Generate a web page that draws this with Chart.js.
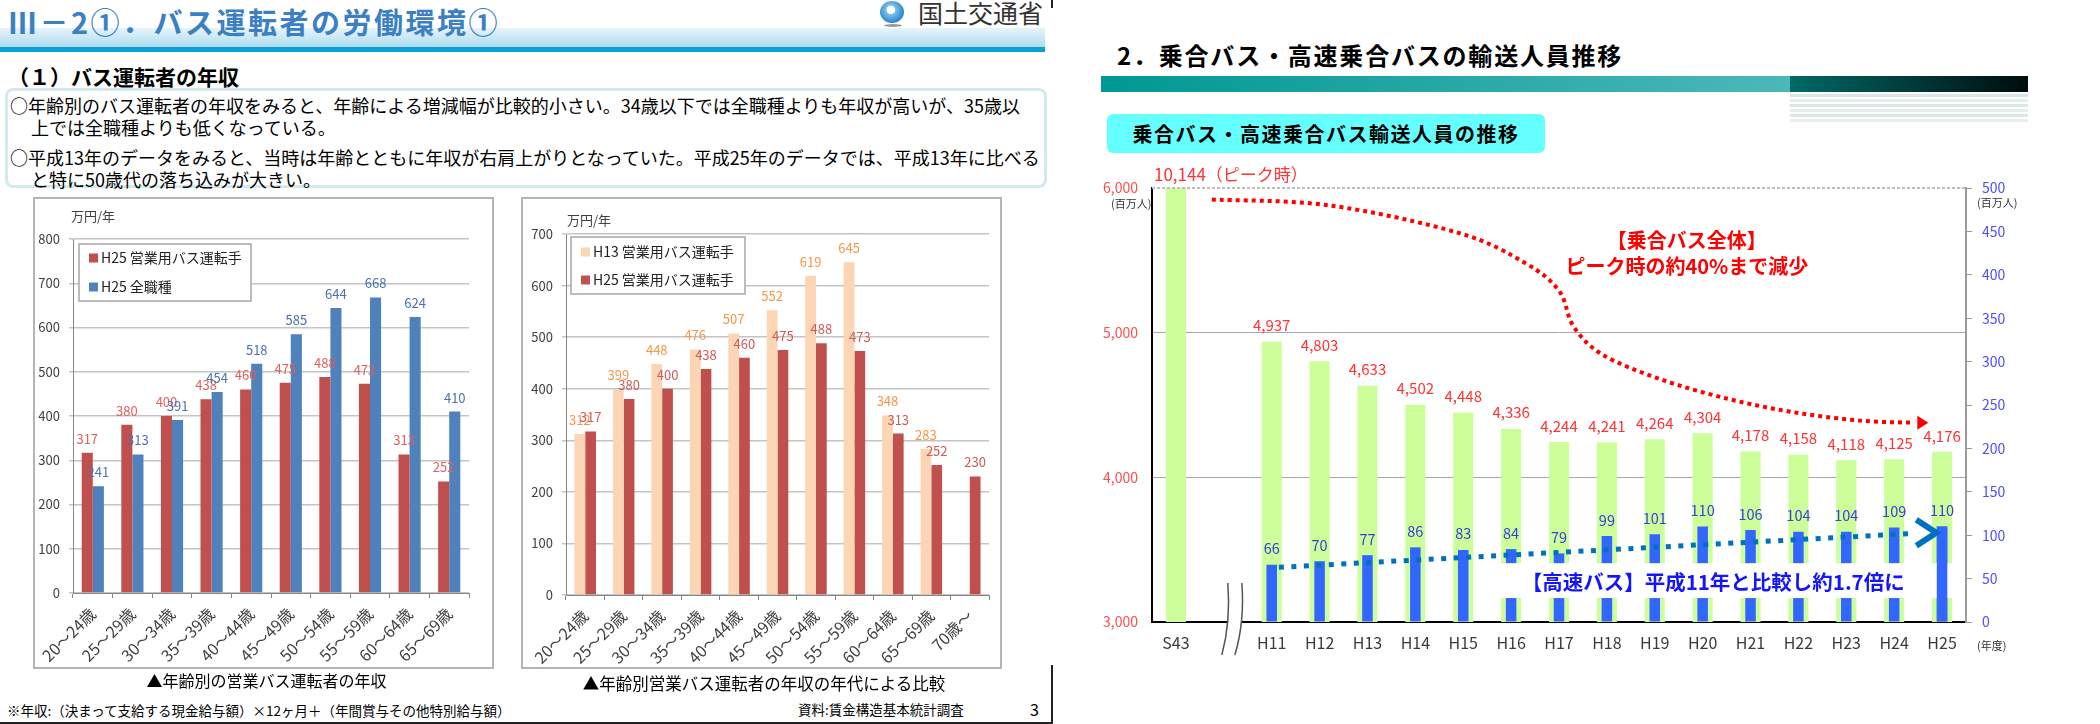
<!DOCTYPE html>
<html lang="ja">
<head>
<meta charset="utf-8">
<script src="https://cdn.jsdelivr.net/npm/chart.js@4.4.1/dist/chart.umd.min.js"></script>
<style>
body{margin:0;background:#fff;font-family:'Noto Sans CJK JP','Noto Sans',sans-serif;}
#page{position:relative;width:2100px;height:724px;overflow:hidden;background:#fff;}
.t{position:absolute;white-space:nowrap;line-height:1;}
.frame{position:absolute;border:2px solid #b4b4b4;box-sizing:border-box;}
canvas{position:absolute;}
</style>
</head>
<body>
<div id="page">
  <!-- left slide -->
  <div style="position:absolute;left:0;top:28px;width:1045px;height:19px;background:linear-gradient(to bottom,#e6f4fb,#aedcef);"></div>
  <div style="position:absolute;left:0;top:47px;width:1045px;height:5px;background:#0aa0d4;"></div>
  <div class="t" style="left:8px;top:7px;font-size:29px;font-weight:bold;color:#3b7fc4;letter-spacing:2.5px;">Ⅲ－2①．バス運転者の労働環境①</div>
  <div style="position:absolute;left:880px;top:1px;width:24px;height:22px;border-radius:50%;background:radial-gradient(circle at 45% 40%,#ffffff 0 22%,#7cc3ec 24%,#1e7fcb 75%);"></div>
  <div style="position:absolute;left:884px;top:24px;width:18px;height:3px;border-radius:50%;background:#9a9a9a;"></div>
  <div class="t" style="left:918px;top:0px;font-size:25px;color:#333;">国土交通省</div>
  <div style="position:absolute;left:1051px;top:0;width:2px;height:8px;background:#222;"></div>

  <div class="t" style="left:8px;top:66px;font-size:21px;font-weight:bold;color:#000;">（１）バス運転者の年収</div>
  <div style="position:absolute;left:5px;top:88px;width:1042px;height:100px;border:3px solid #d3e9ee;border-radius:8px;box-sizing:border-box;"></div>
  <div class="t" style="left:10px;top:96px;font-size:18px;color:#000;">○年齢別のバス運転者の年収をみると、年齢による増減幅が比較的小さい。34歳以下では全職種よりも年収が高いが、35歳以</div>
  <div class="t" style="left:31px;top:118px;font-size:18px;color:#000;">上では全職種よりも低くなっている。</div>
  <div class="t" style="left:10px;top:148px;font-size:18px;color:#000;">○平成13年のデータをみると、当時は年齢とともに年収が右肩上がりとなっていた。平成25年のデータでは、平成13年に比べる</div>
  <div class="t" style="left:31px;top:170px;font-size:18px;color:#000;">と特に50歳代の落ち込みが大きい。</div>

  <div class="frame" style="left:33px;top:197px;width:461px;height:472px;"></div>
  <canvas id="ageChart" width="461" height="472" style="left:33px;top:197px;"></canvas>
  <div class="t" style="left:71px;top:209px;font-size:13px;color:#404040;">万円/年</div>

  <div class="frame" style="left:521px;top:197px;width:481px;height:472px;"></div>
  <canvas id="eraChart" width="481" height="472" style="left:521px;top:197px;"></canvas>
  <div class="t" style="left:567px;top:213px;font-size:13px;color:#404040;">万円/年</div>

  <div class="t" style="left:36px;top:672px;width:461px;text-align:center;font-size:16px;color:#000;">▲年齢別の営業バス運転者の年収</div>
  <div class="t" style="left:524px;top:675px;width:480px;text-align:center;font-size:16.5px;color:#000;">▲年齢別営業バス運転者の年収の年代による比較</div>
  <div class="t" style="left:7px;top:704px;font-size:13.5px;color:#000;">※年収:（決まって支給する現金給与額）×12ヶ月＋（年間賞与その他特別給与額）</div>
  <div class="t" style="left:798px;top:703px;font-size:13.5px;color:#000;">資料:賃金構造基本統計調査</div>
  <div class="t" style="left:1030px;top:701px;font-size:16px;color:#000;">3</div>
  <div style="position:absolute;left:0;top:722px;width:1053px;height:2px;background:#222;"></div>
  <div style="position:absolute;left:1051px;top:665px;width:2px;height:59px;background:#222;"></div>

  <!-- right slide -->
  <div class="t" style="left:1117px;top:43px;font-size:24px;font-weight:bold;color:#000;letter-spacing:1.8px;">2．乗合バス・高速乗合バスの輸送人員推移</div>
  <div style="position:absolute;left:1101px;top:76px;width:689px;height:16px;background:linear-gradient(to right,#009894,#4cb8b8);"></div>
  <div style="position:absolute;left:1790px;top:76px;width:238px;height:16px;background:linear-gradient(to right,#006a68,#000c0c);"></div>
  <div style="position:absolute;left:1790px;top:94px;width:238px;height:28px;background:repeating-linear-gradient(to bottom,#dbe7e2 0 3px,#ffffff 3px 5px,#e6eeea 5px 8px,#ffffff 8px 10px);"></div>
  <div class="t" style="left:1107px;top:114px;width:438px;height:39px;line-height:39px;background:#66ffff;border-radius:6px;text-align:center;font-size:20px;font-weight:bold;color:#000;letter-spacing:1.5px;">乗合バス・高速乗合バス輸送人員の推移</div>

  <canvas id="busChart" width="950" height="510" style="left:1095px;top:160px;"></canvas>
  <div class="t" style="left:1111px;top:198px;font-size:11px;color:#333;">(百万人)</div>
  <div class="t" style="left:1977px;top:197px;font-size:11px;color:#333;">(百万人)</div>
  <div class="t" style="left:1977px;top:640px;font-size:11px;color:#333;">(年度)</div>
</div>

<script>
Chart.defaults.font.family = "'Noto Sans CJK JP', 'Noto Sans', sans-serif";

// ---- data ----
var ageGroups = ['20～24歳','25～29歳','30～34歳','35～39歳','40～44歳','45～49歳','50～54歳','55～59歳','60～64歳','65～69歳'];
var ageGroupsAll = ['20～24歳','25～29歳','30～34歳','35～39歳','40～44歳','45～49歳','50～54歳','55～59歳','60～64歳','65～69歳','70歳～'];
var busDriverH25 = [317,380,400,438,460,475,488,473,313,252];
var allJobsH25 = [241,313,391,454,518,585,644,668,624,410];
var busDriverH13 = [312,399,448,476,507,552,619,645,348,283,null];
var busDriverH25All = [317,380,400,438,460,475,488,473,313,252,230];

var busYears = ['S43','','H11','H12','H13','H14','H15','H16','H17','H18','H19','H20','H21','H22','H23','H24','H25'];
var routeBus = [10144,null,4937,4803,4633,4502,4448,4336,4244,4241,4264,4304,4178,4158,4118,4125,4176];
var highwayBus = [null,null,66,70,77,86,83,84,79,99,101,110,106,104,104,109,110];

// ---- plugins ----
var boxLegend = {
  id: 'boxLegend',
  afterDraw: function(chart, args, o) {
    var ctx = chart.ctx, a = chart.chartArea;
    var x = a.left + o.dx, y = a.top + o.dy;
    ctx.save();
    ctx.fillStyle = '#fff';
    ctx.fillRect(x, y, o.w, o.h);
    ctx.strokeStyle = '#a6a6a6';
    ctx.lineWidth = 1.5;
    ctx.strokeRect(x, y, o.w, o.h);
    ctx.font = "14px 'Noto Sans CJK JP', sans-serif";
    ctx.textBaseline = 'middle';
    chart.data.datasets.forEach(function(ds, i) {
      var ry = y + o.first + i * o.gap;
      ctx.fillStyle = ds.backgroundColor;
      ctx.fillRect(x + 10, ry - 4.5, 9, 9);
      ctx.fillStyle = '#222';
      ctx.fillText(ds.label, x + 22, ry);
    });
    ctx.restore();
  }
};

var barValues = {
  id: 'barValues',
  afterDatasetsDraw: function(chart, args, o) {
    var ctx = chart.ctx;
    ctx.save();
    ctx.font = o.size + "px 'Noto Sans CJK JP', sans-serif";
    ctx.textAlign = 'center';
    ctx.textBaseline = 'middle';
    chart.data.datasets.forEach(function(ds, di) {
      var meta = chart.getDatasetMeta(di);
      meta.data.forEach(function(bar, i) {
        var v = ds.data[i];
        if (v === null || v === undefined) return;
        ctx.fillStyle = ds.labelColor;
        ctx.fillText(String(v), bar.x, bar.y - o.offset);
      });
    });
    ctx.restore();
  }
};

function ageChart(id, labels, sets, yMax, padTop, padRight, yWidth, xHeight, legendOpts) {
  return new Chart(document.getElementById(id), {
    type: 'bar',
    data: {
      labels: labels,
      datasets: sets.map(function(s) {
        return {label: s.label, data: s.data, backgroundColor: s.color, labelColor: s.labelColor,
                categoryPercentage: 0.56, barPercentage: 1};
      })
    },
    options: {
      responsive: false,
      animation: false,
      layout: {padding: {top: padTop, right: padRight, left: 0, bottom: 0}},
      plugins: {legend: {display: false}, tooltip: {enabled: false}, boxLegend: legendOpts,
                barValues: {size: 13, offset: 14}},
      scales: {
        x: {
          grid: {display: true, drawOnChartArea: false, tickLength: 5, color: '#868686'},
          border: {color: '#868686'},
          ticks: {color: '#404040', font: {size: 16}, minRotation: 45, maxRotation: 45, autoSkip: false, padding: 6},
          afterFit: function(s) { s.height = xHeight; }
        },
        y: {
          min: 0, max: yMax,
          ticks: {stepSize: 100, color: '#404040', font: {size: 13}, padding: 9},
          grid: {color: '#c4c4c4', lineWidth: 1.5, tickLength: 4},
          border: {color: '#868686'},
          afterFit: function(s) { s.width = yWidth; }
        }
      }
    },
    plugins: [barValues, boxLegend]
  });
}

ageChart('ageChart', ageGroups, [
  {label: 'H25 営業用バス運転手', data: busDriverH25, color: '#c0504d', labelColor: '#e0605c'},
  {label: 'H25 全職種', data: allJobsH25, color: '#4f81bd', labelColor: '#4a72b0'}
], 800, 42, 25, 40, 76, {dx: 6, dy: 5, w: 172, h: 57, first: 14, gap: 29});

ageChart('eraChart', ageGroupsAll, [
  {label: 'H13 営業用バス運転手', data: busDriverH13, color: '#fcd5b5', labelColor: '#f79646'},
  {label: 'H25 営業用バス運転手', data: busDriverH25All, color: '#c0504d', labelColor: '#d05a56'}
], 700, 37, 13, 45, 74, {dx: 5, dy: 3, w: 174, h: 57, first: 15, gap: 28});

// ---- bus passengers chart ----
var notes = {
  id: 'notes',
  afterDatasetsDraw: function(chart) {
    var ctx = chart.ctx, a = chart.chartArea;
    var xs = chart.scales.x, ys = chart.scales.y, y1 = chart.scales.y1;
    ctx.save();

    // dashed top border (6,000)
    ctx.strokeStyle = '#bdbdbd';
    ctx.lineWidth = 2;
    ctx.setLineDash([3, 2]);
    ctx.beginPath();
    ctx.moveTo(a.left, a.top); ctx.lineTo(a.right, a.top);
    ctx.stroke();
    ctx.setLineDash([]);

    // white box behind the highway bus note
    var bx1 = xs.getPixelForValue(6.77), bx2 = xs.getPixelForValue(16.23);
    var by1 = y1.getPixelForValue(67.8), by2 = y1.getPixelForValue(27.6);
    ctx.fillStyle = '#fff';
    ctx.fillRect(bx1, by1, bx2 - bx1, by2 - by1);
    var hMeta = chart.getDatasetMeta(1);
    hMeta.data[hMeta.data.length - 1].draw(ctx);

    // axis break
    var xb = xs.getPixelForValue(busYears.indexOf('')) + 11;
    var yb = a.bottom;
    ctx.fillStyle = '#fff';
    ctx.beginPath();
    ctx.moveTo(xb - 7, yb - 39);
    ctx.quadraticCurveTo(xb - 4, yb, xb - 13, yb + 33);
    ctx.lineTo(xb, yb + 33);
    ctx.quadraticCurveTo(xb + 10, yb, xb + 7, yb - 39);
    ctx.closePath();
    ctx.fill();
    ctx.strokeStyle = '#555';
    ctx.lineWidth = 1.5;
    ctx.beginPath();
    ctx.moveTo(xb - 7, yb - 39); ctx.quadraticCurveTo(xb - 4, yb, xb - 13, yb + 33);
    ctx.moveTo(xb + 7, yb - 39); ctx.quadraticCurveTo(xb + 10, yb, xb, yb + 33);
    ctx.stroke();

    // red dotted decline curve
    var curve = [[0.75,5920],[3.2,5880],[5.9,5690],[7.3,5480],[8.0,5290],[8.3,5045],[8.9,4850],[10.1,4680],[11.5,4545],[12.9,4450],[14.3,4392],[15.4,4378]];
    var pts = curve.map(function(p) { return [xs.getPixelForValue(p[0]), ys.getPixelForValue(p[1])]; });
    ctx.strokeStyle = '#ff0000';
    ctx.lineWidth = 4;
    ctx.setLineDash([4, 4]);
    ctx.beginPath();
    ctx.moveTo(pts[0][0], pts[0][1]);
    for (var k = 0; k < pts.length - 1; k++) {
      var p0 = pts[Math.max(k - 1, 0)], p1 = pts[k], p2 = pts[k + 1], p3 = pts[Math.min(k + 2, pts.length - 1)];
      ctx.bezierCurveTo(p1[0] + (p2[0] - p0[0]) / 6, p1[1] + (p2[1] - p0[1]) / 6,
                        p2[0] - (p3[0] - p1[0]) / 6, p2[1] - (p3[1] - p1[1]) / 6, p2[0], p2[1]);
    }
    ctx.stroke();
    ctx.setLineDash([]);
    var end = pts[pts.length - 1];
    ctx.fillStyle = '#ff0000';
    ctx.beginPath();
    ctx.moveTo(end[0] + 4, end[1] - 7);
    ctx.lineTo(end[0] + 15, end[1]);
    ctx.lineTo(end[0] + 4, end[1] + 7);
    ctx.closePath();
    ctx.fill();

    // blue dotted growth arrow
    var s = [xs.getPixelForValue(2.15), y1.getPixelForValue(63)];
    var e = [xs.getPixelForValue(15.4), y1.getPixelForValue(102)];
    ctx.strokeStyle = '#0070c0';
    ctx.lineWidth = 5;
    ctx.setLineDash([5, 7.5]);
    ctx.beginPath();
    ctx.moveTo(s[0], s[1]); ctx.lineTo(e[0], e[1]);
    ctx.stroke();
    ctx.setLineDash([]);
    var tip = [xs.getPixelForValue(15.88), y1.getPixelForValue(102.8)];
    ctx.lineWidth = 6;
    ctx.lineJoin = 'miter';
    ctx.beginPath();
    ctx.moveTo(tip[0] - 20, tip[1] - 13);
    ctx.lineTo(tip[0], tip[1]);
    ctx.lineTo(tip[0] - 20, tip[1] + 13);
    ctx.stroke();

    // notes
    ctx.textAlign = 'center';
    ctx.textBaseline = 'middle';
    ctx.fillStyle = '#ff0000';
    ctx.font = "bold 20px 'Noto Sans CJK JP', sans-serif";
    var nx = xs.getPixelForValue(10.67);
    ctx.fillText('【乗合バス全体】', nx, ys.getPixelForValue(5640));
    ctx.fillText('ピーク時の約40%まで減少', nx, ys.getPixelForValue(5460));
    ctx.fillStyle = '#1414ff';
    ctx.font = "bold 20.5px 'Noto Sans CJK JP', sans-serif";
    ctx.fillText('【高速バス】平成11年と比較し約1.7倍に', xs.getPixelForValue(11.22), y1.getPixelForValue(46));

    // value labels
    ctx.font = "15px 'Noto Sans CJK JP', sans-serif";
    var gMeta = chart.getDatasetMeta(0);
    gMeta.data.forEach(function(bar, i) {
      var v = routeBus[i];
      if (v === null) return;
      ctx.fillStyle = '#ff3333';
      if (v > ys.max) {
        ctx.textAlign = 'left';
        ctx.font = "17px 'Noto Sans CJK JP', sans-serif";
        ctx.fillText(v.toLocaleString('en-US') + '（ピーク時）', bar.x - 22, a.top - 13);
        ctx.font = "15px 'Noto Sans CJK JP', sans-serif";
        ctx.textAlign = 'center';
      } else {
        ctx.fillText(v.toLocaleString('en-US'), bar.x, bar.y - 16);
      }
    });
    ctx.fillStyle = '#3c3cdc';
    ctx.font = "14.5px 'Noto Sans CJK JP', sans-serif";
    hMeta.data.forEach(function(bar, i) {
      var v = highwayBus[i];
      if (v === null) return;
      ctx.fillText(String(v), bar.x, bar.y - 16);
    });
    ctx.restore();
  }
};

new Chart(document.getElementById('busChart'), {
  type: 'bar',
  data: {
    labels: busYears,
    datasets: [
      {label: '乗合バス', data: routeBus, backgroundColor: '#ccff99', yAxisID: 'y', grouped: false,
       categoryPercentage: 1, barPercentage: 0.42, order: 2},
      {label: '高速バス', data: highwayBus, backgroundColor: '#3366ff', yAxisID: 'y1', grouped: false,
       categoryPercentage: 1, barPercentage: 0.22, order: 1}
    ]
  },
  options: {
    responsive: false,
    animation: false,
    layout: {padding: {top: 28, right: 0, left: 0, bottom: 0}},
    plugins: {legend: {display: false}, tooltip: {enabled: false}},
    scales: {
      x: {
        grid: {display: false, drawTicks: false},
        border: {color: '#000', width: 2},
        ticks: {color: '#3a3a3a', font: {size: 16}, padding: 11, autoSkip: false, maxRotation: 0},
        afterFit: function(s) { s.height = 48; }
      },
      y: {
        position: 'left', min: 3000, max: 6000,
        ticks: {stepSize: 1000, color: '#ff4d4d', font: {size: 14}, padding: 14,
                callback: function(v) { return v.toLocaleString('en-US'); }},
        grid: {drawTicks: false, lineWidth: 1,
               color: function(c) { return (c.tick && (c.tick.value === 4000 || c.tick.value === 5000)) ? '#a8a8a8' : 'rgba(0,0,0,0)'; }},
        border: {color: '#000', width: 2},
        afterFit: function(s) { s.width = 57; }
      },
      y1: {
        position: 'right', min: 0, max: 500,
        ticks: {stepSize: 50, color: '#4d4dff', font: {size: 14}, padding: 10},
        grid: {drawOnChartArea: false, tickLength: 6, color: '#999'},
        border: {color: '#999', width: 2},
        afterFit: function(s) { s.width = 79; }
      }
    }
  },
  plugins: [notes]
});
</script>
</body>
</html>
